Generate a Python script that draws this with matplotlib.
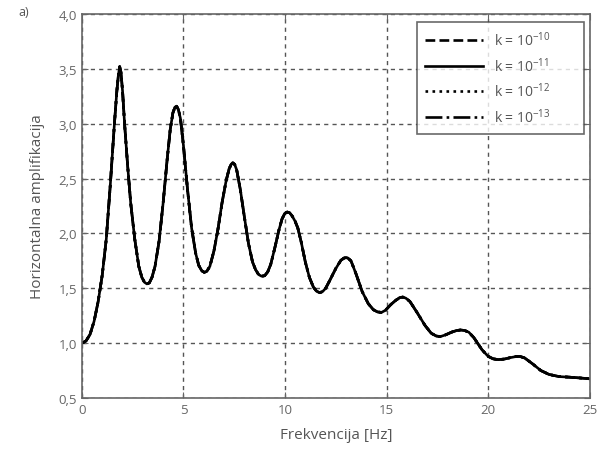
import matplotlib
matplotlib.use("Agg")
import matplotlib.pyplot as plt
from matplotlib.ticker import FuncFormatter

plt.rcParams['font.family'] = ['Open Sans', 'DejaVu Sans']
plt.rcParams['mathtext.fontset'] = 'custom'
plt.rcParams['mathtext.rm'] = 'Open Sans'

# frequency [Hz] and horizontal amplification
freq = [0.0, 0.2, 0.4, 0.6, 0.8, 1.0, 1.2, 1.4, 1.6, 1.72, 1.8, 1.86, 1.92,
        2.0, 2.1, 2.25, 2.4, 2.6, 2.8, 2.95, 3.08, 3.2, 3.32, 3.45, 3.6,
        3.8, 4.0, 4.2, 4.35, 4.48, 4.58, 4.66, 4.75, 4.85, 5.0, 5.2, 5.4,
        5.6, 5.75, 5.9, 6.03, 6.15, 6.3, 6.5, 6.7, 6.9, 7.1, 7.25, 7.35,
        7.43, 7.52, 7.62, 7.8, 8.0, 8.2, 8.4, 8.55, 8.7, 8.85, 9.0, 9.15,
        9.3, 9.5, 9.7, 9.85, 9.98, 10.1, 10.22, 10.35, 10.5, 10.63, 10.8,
        11.0, 11.2, 11.4, 11.55, 11.7, 11.85, 12.0, 12.2, 12.5, 12.75,
        12.9, 13.0, 13.1, 13.25, 13.5, 13.8, 14.1, 14.35, 14.55, 14.75,
        14.95, 15.2, 15.45, 15.65, 15.8, 15.95, 16.15, 16.5, 16.9, 17.2,
        17.45, 17.65, 17.9, 18.2, 18.45, 18.65, 18.85, 19.05, 19.3, 19.7,
        20.0, 20.25, 20.5, 20.8, 21.1, 21.35, 21.55, 21.8, 22.2, 22.6,
        23.0, 23.5, 24.0, 24.5, 25.0]
amp = [1.0, 1.02, 1.08, 1.2, 1.38, 1.62, 1.95, 2.45, 3.0, 3.3, 3.45, 3.52,
       3.47, 3.3, 3.0, 2.62, 2.28, 1.95, 1.7, 1.6, 1.555, 1.54, 1.55,
       1.6, 1.7, 1.93, 2.28, 2.68, 2.95, 3.1, 3.15, 3.16, 3.13, 3.05, 2.8,
       2.4, 2.05, 1.82, 1.71, 1.66, 1.645, 1.655, 1.7, 1.84, 2.04, 2.28,
       2.48, 2.59, 2.63, 2.645, 2.63, 2.58, 2.4, 2.15, 1.91, 1.74, 1.67,
       1.625, 1.61, 1.615, 1.65, 1.72, 1.87, 2.03, 2.13, 2.18, 2.195,
       2.19, 2.16, 2.11, 2.05, 1.92, 1.74, 1.6, 1.51, 1.475, 1.46, 1.47,
       1.5, 1.57, 1.68, 1.755, 1.775, 1.78, 1.775, 1.75, 1.63, 1.47, 1.36,
       1.305, 1.285, 1.28, 1.3, 1.35, 1.39, 1.415, 1.42, 1.41, 1.38, 1.28,
       1.16, 1.09, 1.065, 1.06, 1.075, 1.1, 1.115, 1.12, 1.115, 1.1, 1.05,
       0.94, 0.88, 0.857, 0.85, 0.855, 0.868, 0.877, 0.88, 0.865, 0.81,
       0.75, 0.715, 0.695, 0.69, 0.683, 0.675]

labels = ['k = 10$^{-10}$', 'k = 10$^{-11}$', 'k = 10$^{-12}$', 'k = 10$^{-13}$']
styles = ['--', '-', ':', '-.']

fig = plt.figure(figsize=(5.98, 4.56), dpi=100)
ax = fig.add_axes([0.137, 0.125, 0.849, 0.842])

for lab, ls in zip(labels, styles):
    ax.plot(freq, amp, color='black', linestyle=ls, linewidth=1.9, label=lab)

ax.set_xlim(0, 25)
ax.set_ylim(0.5, 4.0)
ax.set_xticks([0, 5, 10, 15, 20, 25])
ax.set_yticks([0.5, 1.0, 1.5, 2.0, 2.5, 3.0, 3.5, 4.0])
ax.yaxis.set_major_formatter(FuncFormatter(lambda v, p: f"{v:.1f}".replace('.', ',')))
ax.grid(True, linestyle=(0, (3, 3)), color='#555555', linewidth=1.0)
ax.tick_params(direction='in', top=True, right=True, labelsize=9.5,
               colors='#666666', length=4)
for s in ax.spines.values():
    s.set_color('#666666')
    s.set_linewidth(1.2)

ax.set_xlabel('Frekvencija [Hz]', fontsize=11, color='#555555', labelpad=8)
ax.set_ylabel('Horizontalna amplifikacija', fontsize=11, color='#555555', labelpad=10)
fig.text(0.03, 0.965, 'a)', fontsize=9, color='#555555')

leg = ax.legend(loc='upper left', bbox_to_anchor=(0.659, 0.5, 0.329, 0.479),
                mode='expand', borderaxespad=0, fontsize=10, handlelength=4.2,
                handletextpad=0.8, borderpad=0.6, labelspacing=0.5,
                frameon=True, fancybox=False, edgecolor='#444444')
for t in leg.get_texts():
    t.set_color('#555555')
leg.get_frame().set_linewidth(1.2)

fig.savefig('out.png', dpi=100)
